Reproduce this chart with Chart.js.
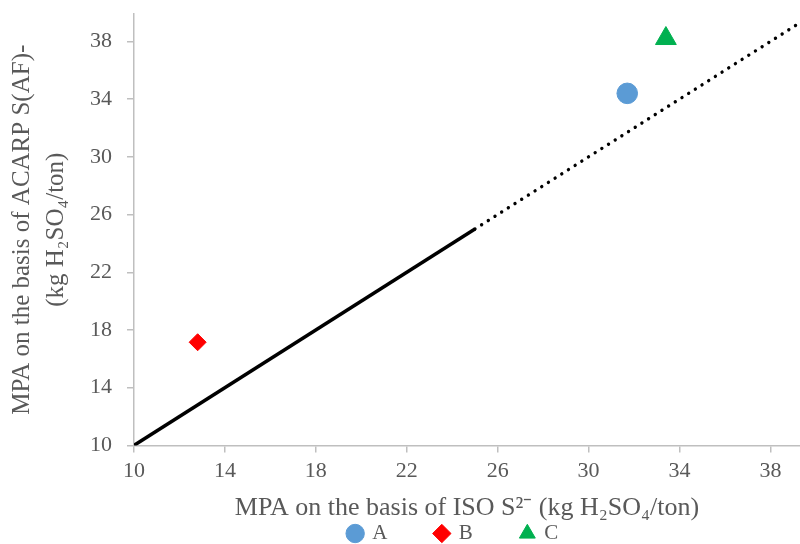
<!DOCTYPE html>
<html>
<head>
<meta charset="utf-8">
<script src="https://cdn.jsdelivr.net/npm/chart.js@4"></script>
<style>
  html, body { margin: 0; padding: 0; background: #fff; }
  #wrap { width: 800px; height: 544px; }
</style>
</head>
<body>
<div id="wrap"><canvas id="chart" width="800" height="544"></canvas></div>
<script>
// Sample points
const seriesNames = ['A', 'B', 'C'];
const seriesX = [31.7, 12.8, 33.4];
const seriesY = [34.4, 17.15, 38.2];
const seriesColors = ['#5b9bd5', '#ff0000', '#00b050'];
const seriesShapes = ['circle', 'rectRot', 'triangle'];
const seriesSizes = [10.3, 8.5, 12];

// 1:1 line, solid part then dotted extension
const solidLine = [10, 25];
const dottedLine = [25, 39.3];

const xTicks = [10, 14, 18, 22, 26, 30, 34, 38];
const yTicks = [10, 14, 18, 22, 26, 30, 34, 38];

const axisGray = '#bfbfbf';
const textGray = '#595959';
const serif = "'Liberation Serif', 'Times New Roman', serif";

const datasets = seriesNames.map((name, i) => ({
  type: 'scatter',
  label: name,
  data: [{ x: seriesX[i], y: seriesY[i] }],
  backgroundColor: seriesColors[i],
  borderColor: seriesColors[i],
  pointStyle: seriesShapes[i],
  pointRadius: seriesSizes[i],
  pointHoverRadius: seriesSizes[i]
}));

datasets.push({
  type: 'line',
  label: 'line',
  data: solidLine.map(v => ({ x: v, y: v })),
  borderColor: '#000',
  borderWidth: 3.5,
  pointRadius: 0
});
datasets.push({
  type: 'line',
  label: 'dotted',
  data: dottedLine.map(v => ({ x: v, y: v })),
  borderColor: '#000',
  borderWidth: 3.4,
  borderDash: [0.01, 7.9],
  borderCapStyle: 'round',
  pointRadius: 0
});

// Excel puts the legend a bit right of centre and tight under the title
const legendShift = {
  id: 'legendShift',
  afterLayout(chart) {
    const lg = chart.legend;
    lg.left += 72;
    lg.right += 72;
    lg.top -= 7;
    lg.bottom -= 7;
  }
};

// no extra room for the end tick labels
const noEdgePad = s => {
  s.paddingTop = 0; s.paddingBottom = 0;
  s.paddingLeft = 0; s.paddingRight = 0;
};

new Chart(document.getElementById('chart'), {
  type: 'scatter',
  data: { datasets },
  plugins: [legendShift],
  options: {
    responsive: false,
    animation: false,
    layout: { autoPadding: false, padding: { top: 14, right: 0, left: 5, bottom: -17 } },
    plugins: {
      tooltip: { enabled: false },
      legend: {
        position: 'bottom',
        labels: {
          filter: item => seriesNames.includes(item.text.trim()),
          generateLabels: chart => Chart.defaults.plugins.legend.labels.generateLabels(chart)
            .map(l => Object.assign(l, { text: l.text + '        ' })),
          usePointStyle: true,
          boxWidth: 13,
          boxHeight: 13,
          padding: 6,
          color: textGray,
          font: { family: serif, size: 21 }
        }
      }
    },
    scales: {
      x: {
        type: 'linear',
        min: 10,
        max: 39.3,
        afterBuildTicks: s => { s.ticks = xTicks.map(v => ({ value: v })); },
        afterFit: noEdgePad,
        border: { color: axisGray, width: 1.5 },
        grid: { drawOnChartArea: false, color: axisGray, tickLength: 7, lineWidth: 1.5 },
        ticks: { color: textGray, font: { family: serif, size: 22 }, padding: 6, maxRotation: 0 },
        title: {
          display: true,
          text: 'MPA on the basis of ISO S²⁻ (kg H₂SO₄/ton)',
          color: textGray,
          font: { family: serif, size: 26 },
          padding: { top: 2, bottom: 0 }
        }
      },
      y: {
        type: 'linear',
        min: 10,
        max: 39.9,
        afterBuildTicks: s => { s.ticks = yTicks.map(v => ({ value: v })); },
        afterFit: noEdgePad,
        border: { color: axisGray, width: 1.5 },
        grid: { drawOnChartArea: false, color: axisGray, tickLength: 7, lineWidth: 1.5 },
        ticks: { color: textGray, font: { family: serif, size: 22 }, padding: 15 },
        title: {
          display: true,
          text: ['MPA on the basis of ACARP S(AF)-', '(kg H₂SO₄/ton)'],
          color: textGray,
          font: { family: serif, size: 25, lineHeight: 1.36 },
          padding: { top: 0, bottom: 2 }
        }
      }
    }
  }
});
</script>
</body>
</html>
